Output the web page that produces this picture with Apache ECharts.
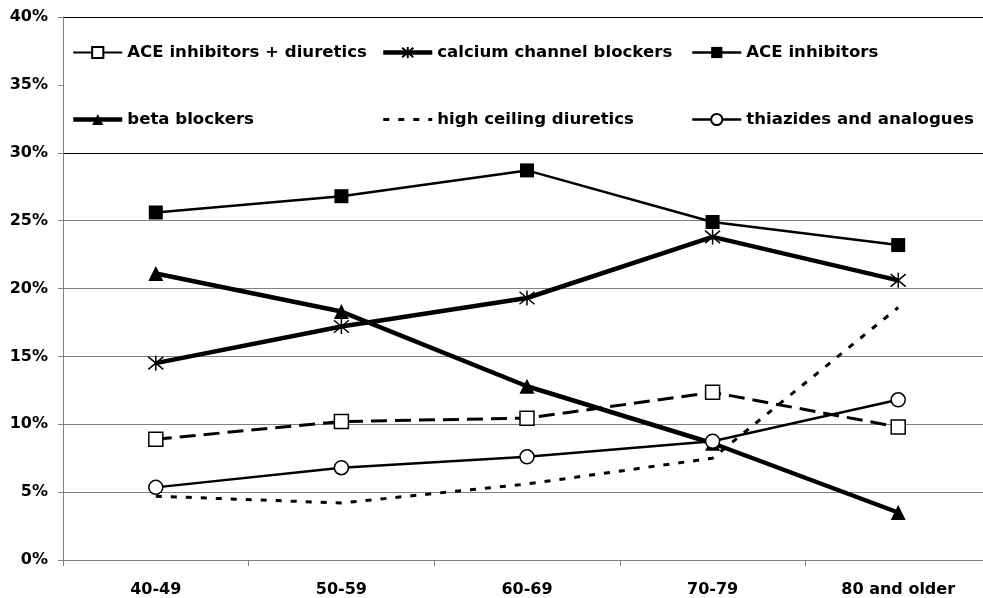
<!DOCTYPE html>
<html>
<head>
<meta charset="utf-8">
<script src="https://cdn.jsdelivr.net/npm/echarts@6/dist/echarts.min.js"></script>
<style>
  html, body { margin: 0; padding: 0; background: #fff; overflow: hidden; }
  #chart { width: 991px; height: 598px; }
</style>
</head>
<body>
<div id="chart"></div>
<script>
const categories = ['40-49', '50-59', '60-69', '70-79', '80 and older'];
const aceDiuretics = [8.9, 10.2, 10.45, 12.35, 9.8];
const calciumBlockers = [14.5, 17.2, 19.3, 23.8, 20.6];
const aceInhibitors = [25.6, 26.8, 28.7, 24.9, 23.2];
const betaBlockers = [21.1, 18.3, 12.8, 8.6, 3.5];
const highCeiling = [4.7, 4.2, 5.6, 7.5, 18.6];
const thiazides = [5.35, 6.8, 7.6, 8.75, 11.8];

const FONT = 'DejaVu Sans';
const GRAY = '#808080';
const asterisk = 'path://M0,0 L10,10 M10,0 L0,10 M5,-1 L5,11';

const chart = echarts.init(document.getElementById('chart'), null, { renderer: 'canvas' });

const legendBase = {
  orient: 'vertical',
  top: 44,
  padding: 0,
  itemWidth: 49,
  itemHeight: 14,
  itemGap: 50,
  selectedMode: false,
  textStyle: { fontFamily: FONT, fontWeight: 'bold', fontSize: 16.6, color: '#000', lineHeight: 17 }
};

chart.setOption({
  animation: false,
  backgroundColor: '#fff',
  grid: { left: 63, right: 0, top: 17, bottom: 37, containLabel: false },
  legend: [
    Object.assign({}, legendBase, { left: 71, data: [
      { name: 'ACE inhibitors + diuretics', lineStyle: { width: 2, type: 'solid' } },
      { name: 'beta blockers', lineStyle: { width: 4.5 } }
    ] }),
    Object.assign({}, legendBase, { left: 381, data: [
      { name: 'calcium channel blockers', lineStyle: { width: 4.5 } },
      { name: 'high ceiling diuretics', itemStyle: { opacity: 0 }, lineStyle: { width: 3 } }
    ] }),
    Object.assign({}, legendBase, { left: 691, data: [
      { name: 'ACE inhibitors', lineStyle: { width: 2.5 } },
      { name: 'thiazides and analogues', lineStyle: { width: 2.5 } }
    ] })
  ],
  xAxis: {
    type: 'category',
    data: categories,
    boundaryGap: true,
    axisLine: { lineStyle: { color: GRAY, width: 1 } },
    axisTick: { show: true, length: 6, lineStyle: { color: GRAY } },
    axisLabel: { fontFamily: FONT, fontWeight: 'bold', fontSize: 16, color: '#000', margin: 22 },
    splitLine: { show: false }
  },
  yAxis: {
    type: 'value',
    min: 0,
    max: 40,
    interval: 5,
    axisLine: { show: true, lineStyle: { color: GRAY, width: 1 } },
    axisTick: { show: true, length: 5, lineStyle: { color: GRAY } },
    axisLabel: { formatter: '{value}%', fontFamily: FONT, fontWeight: 'bold', fontSize: 16, color: '#000', margin: 15 },
    splitLine: {
      show: true,
      lineStyle: {
        width: 1,
        color: [GRAY, GRAY, GRAY, GRAY, GRAY, GRAY, '#000', 'rgba(0,0,0,0)', '#000']
      }
    }
  },
  series: [
    {
      name: 'ACE inhibitors + diuretics',
      type: 'line',
      data: aceDiuretics,
      symbol: 'rect',
      symbolSize: 14,
      itemStyle: { color: '#fff', borderColor: '#000', borderWidth: 1.5 },
      lineStyle: { color: '#000', width: 3, type: [16, 8] }
    },
    {
      name: 'calcium channel blockers',
      type: 'line',
      data: calciumBlockers,
      symbol: asterisk,
      symbolSize: 15,
      itemStyle: { color: '#000', borderColor: '#000', borderWidth: 1.5 },
      lineStyle: { color: '#000', width: 4.5 }
    },
    {
      name: 'ACE inhibitors',
      type: 'line',
      data: aceInhibitors,
      symbol: 'rect',
      symbolSize: 14,
      itemStyle: { color: '#000' },
      lineStyle: { color: '#000', width: 2.5 }
    },
    {
      name: 'beta blockers',
      type: 'line',
      data: betaBlockers,
      symbol: 'triangle',
      symbolSize: 15,
      itemStyle: { color: '#000' },
      lineStyle: { color: '#000', width: 4.5 }
    },
    {
      name: 'high ceiling diuretics',
      type: 'line',
      data: highCeiling,
      symbol: 'none',
      itemStyle: { color: '#000' },
      lineStyle: { color: '#000', width: 3, type: [6, 9] }
    },
    {
      name: 'thiazides and analogues',
      type: 'line',
      data: thiazides,
      symbol: 'circle',
      symbolSize: 14,
      itemStyle: { color: '#fff', borderColor: '#000', borderWidth: 1.5 },
      lineStyle: { color: '#000', width: 2.5 }
    }
  ]
});
</script>
</body>
</html>
